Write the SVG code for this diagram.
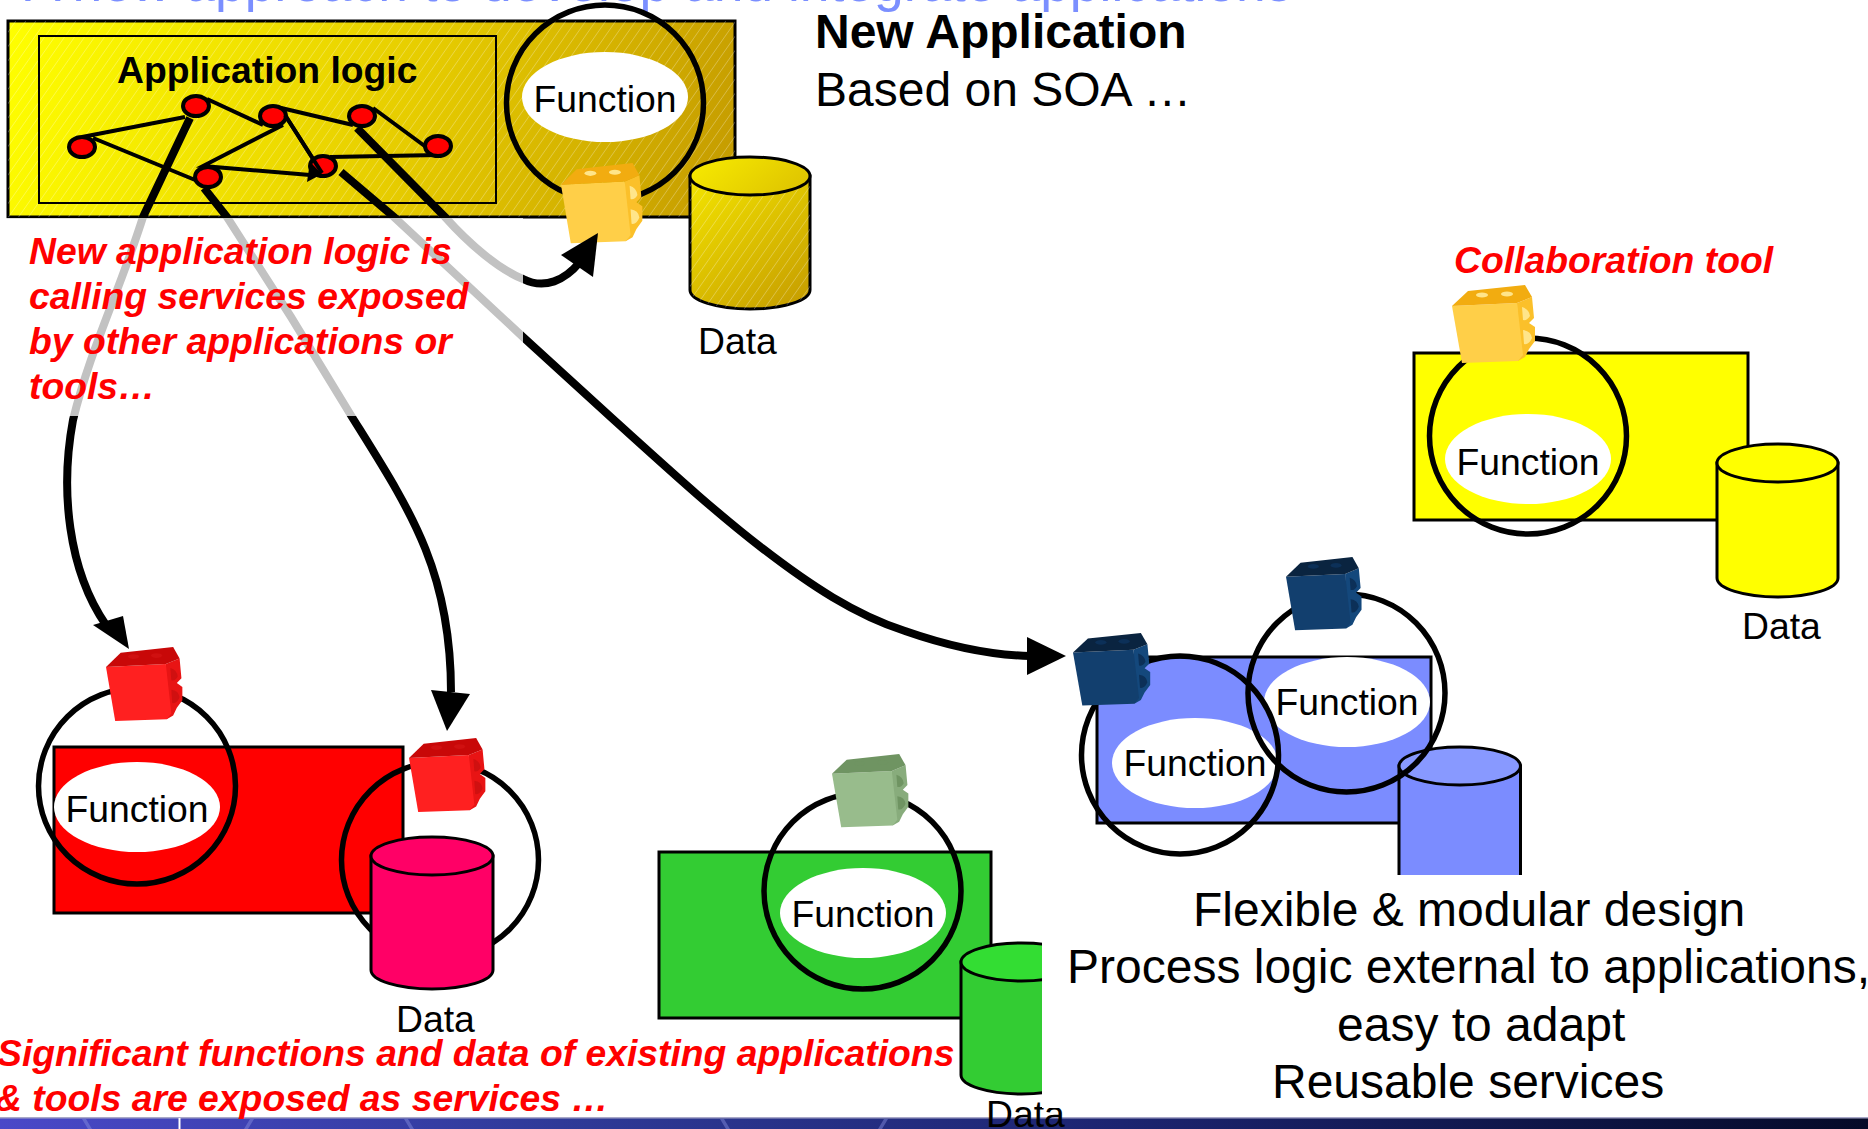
<svg xmlns="http://www.w3.org/2000/svg" width="1868" height="1129" viewBox="0 0 1868 1129">
<style>
text{font-family:"Liberation Sans",Arial,sans-serif;fill:#000;font-size:37.3px}
.b{font-weight:bold}
.red{font-weight:bold;font-style:italic;fill:#f00}
.big{font-size:48px}
.mid{text-anchor:middle}
.box{stroke:#000;stroke-width:3}
.ring{fill:none;stroke:#000;stroke-width:5.500}
.white{fill:#fff}
.cyl{stroke:#000;stroke-width:3}
.thin{fill:none;stroke:#000;stroke-width:4}
.dot{fill:#f00;stroke:#000;stroke-width:4}
.thick{fill:none;stroke:#000;stroke-width:8}
.cube-o{--t:#f2ac10;--f:#ffcf48;--s:#fbc02a;--h:#ffe58a}
.cube-r{--t:#c80808;--f:#ff2020;--s:#e81414;--h:#d01010}
.cube-g{--t:#6f9462;--f:#98bc8c;--s:#88ac7c;--h:#6f9462}
.cube-b{--t:#0a2440;--f:#123f6e;--s:#14487c;--h:#0c3058}
.streak{fill:#8a90e0;opacity:.45}
</style>
<defs>
<linearGradient id="goldRect" gradientUnits="userSpaceOnUse" x1="8" y1="21" x2="735" y2="217"><stop offset="0" stop-color="#ffff00"/><stop offset=".55" stop-color="#e6cc00"/><stop offset="1" stop-color="#c49a00"/></linearGradient>
<linearGradient id="goldCyl" gradientUnits="userSpaceOnUse" x1="690" y1="157" x2="810" y2="309"><stop offset="0" stop-color="#f8ec00"/><stop offset="1" stop-color="#c49a00"/></linearGradient>
<linearGradient id="bandG" x1="0" x2="1" y1="0" y2="0"><stop offset="0" stop-color="#4a48c8"/><stop offset=".3" stop-color="#2f3a98"/><stop offset=".6" stop-color="#1c2470"/><stop offset="1" stop-color="#050a28"/></linearGradient>
<pattern id="hatch" width="10" height="14" patternUnits="userSpaceOnUse" patternTransform="skewX(-35)"><rect x="0" y="0" width="1" height="14" fill="#fff" opacity=".28"/></pattern>
<g id="cube">
<path d="M65 18L80 12L82 33L77 38L83 42L83 56L77 64L73 72L66 76Z" fill="var(--s)"/>
<path d="M0 21L65 18L71 70L66 76L10 78Z" fill="var(--f)"/>
<path d="M0 21L16 6L73 0L80 12L65 18Z" fill="var(--t)"/>
<path d="M70 22q7 2 8 9q-3 5-7 4zM71 45q8 1 9 8q-3 7-8 6z" fill="var(--h)"/>
<ellipse cx="30" cy="10" rx="6" ry="2.500" fill="var(--h)"/>
<ellipse cx="55" cy="9" rx="6" ry="2.500" fill="var(--h)"/>
</g>
</defs>

<g id="footer-band">
<rect x="0" y="1117" width="1868" height="12" fill="url(#bandG)"/>
<rect x="0" y="1117" width="1868" height="1.500" fill="#a8a8c8"/>
<path class="streak" d="M82 1119h4l6 10h-4zM250 1119h4l-6 10h-4zM404 1119h4l6 10h-4zM720 1119h4l6 10h-4zM884 1119h4l-6 10h-4z"/>
<rect x="178.500" y="1118" width="2" height="11" fill="#fff"/>
</g>

<text id="slide-title" x="25" y="1" style="font-size:53.400px;fill:#7b8fff">A new approach to develop and integrate applications</text>

<g id="new-application">
<rect class="box" x="8" y="21" width="727" height="196" fill="url(#goldRect)"/>
<rect x="8" y="21" width="727" height="196" fill="url(#hatch)"/>
<rect x="39" y="36" width="457" height="167" fill="none" stroke="#000" stroke-width="2"/>
<text class="b" x="117" y="83">Application logic</text>
<ellipse class="white" cx="605" cy="97" rx="83" ry="45"/>
<ellipse class="ring" cx="605" cy="103" rx="98.500" ry="98"/>
<text class="mid" x="605" y="112">Function</text>
<use href="#cube" class="cube-o" transform="translate(561 163) scale(.98 1.03)"/>
<path class="cyl" fill="url(#goldCyl)" d="M690 176V290A60 19 0 0 0 810 290V176Z"/>
<path d="M690 176V290A60 19 0 0 0 810 290V176Z" fill="url(#hatch)"/>
<ellipse class="cyl" fill="url(#goldCyl)" cx="750" cy="176" rx="60" ry="19"/>
<text x="698" y="354">Data</text>
</g>

<g id="logic-graph">
<path class="thin" d="M82 137L185 117M207 99L263 125M277 107L353 125M283 125L203 166L310 175M93 138L200 182M285 115L322 173M330 157L439 155M373 108L426 147"/>
<ellipse class="dot" cx="82" cy="147" rx="13" ry="10"/>
<ellipse class="dot" cx="196" cy="106" rx="13" ry="10"/>
<ellipse class="dot" cx="273" cy="116" rx="13" ry="10"/>
<ellipse class="dot" cx="362" cy="116" rx="13" ry="10"/>
<ellipse class="dot" cx="438" cy="146" rx="13" ry="10"/>
<ellipse class="dot" cx="208" cy="177" rx="13" ry="10"/>
<ellipse class="dot" cx="323" cy="166" rx="13" ry="10"/>
<path d="M322 174L310 162L307 182Z" fill="#000"/>
<path d="M285 115L322 173" stroke="#000" stroke-width="4"/>
</g>

<g id="collaboration-tool">
<text class="red" x="1454" y="273">Collaboration tool</text>
<rect class="box" x="1414" y="353" width="334" height="167" fill="#ffff00"/>
<ellipse class="white" cx="1528" cy="459" rx="83" ry="45"/>
<ellipse class="ring" cx="1528" cy="436" rx="98.500" ry="98"/>
<text class="mid" x="1528" y="475">Function</text>
<use href="#cube" class="cube-o" transform="translate(1452 285)"/>
<path class="cyl" fill="#ffff00" d="M1717 463V578A60.500 19 0 0 0 1838 578V463Z"/>
<ellipse class="cyl" fill="#ffff00" cx="1777.500" cy="463" rx="60.500" ry="19"/>
<text x="1742" y="639">Data</text>
</g>

<g id="red-application">
<rect class="box" x="54" y="747" width="349" height="166" fill="#f00"/>
<ellipse class="white" cx="137" cy="807" rx="83" ry="45"/>
<ellipse class="ring" cx="137" cy="786" rx="98.500" ry="98"/>
<text class="mid" x="137" y="822">Function</text>
<use href="#cube" class="cube-r" transform="translate(106 647) scale(.92 .95)"/>
<ellipse class="ring" cx="440" cy="860" rx="98.500" ry="98"/>
<use href="#cube" class="cube-r" transform="translate(409 738) scale(.92 .95)"/>
<path class="cyl" fill="#ff0066" d="M371 856V970A61 19 0 0 0 493 970V856Z"/>
<ellipse class="cyl" fill="#ff0066" cx="432" cy="856" rx="61" ry="19"/>
<text x="396" y="1032">Data</text>
</g>

<g id="green-application">
<rect class="box" x="659" y="852" width="332" height="166" fill="#33cc33"/>
<ellipse class="white" cx="863" cy="913" rx="83" ry="45"/>
<ellipse class="ring" cx="862.500" cy="891" rx="98.500" ry="98"/>
<text class="mid" x="863" y="927">Function</text>
<use href="#cube" class="cube-g" transform="translate(832 754) scale(.92 .94)"/>
<path class="cyl" fill="#33cc33" d="M961 962V1075A60.500 19 0 0 0 1082 1075V962Z"/>
<ellipse class="cyl" fill="#33dd33" cx="1021.500" cy="962" rx="60.500" ry="19"/>
<text x="986" y="1127">Data</text>
</g>

<g id="blue-application">
<rect class="box" x="1097" y="657" width="334" height="166" fill="#7b8cff"/>
<path class="cyl" fill="#7b8cff" d="M1399 766V900H1520.500V766Z"/>
<ellipse class="cyl" fill="#8899ff" cx="1459.750" cy="766" rx="60.750" ry="19"/>
<ellipse class="white" cx="1195" cy="763" rx="83" ry="45"/>
<ellipse class="white" cx="1347" cy="702" rx="83" ry="45"/>
<ellipse class="ring" cx="1180" cy="755" rx="98.500" ry="99"/>
<ellipse class="ring" cx="1346.500" cy="693" rx="98.500" ry="99"/>
<text class="mid" x="1195" y="776">Function</text>
<text class="mid" x="1347" y="715">Function</text>
<use href="#cube" class="cube-b" transform="translate(1073 633) scale(.93 .93)"/>
<use href="#cube" class="cube-b" transform="translate(1286 557) scale(.91 .94)"/>
</g>

<g id="connectors">
<path class="thick" d="M190 118L143 217C120 290 90 350 73 420C60 490 68 570 106 625"/>
<path d="M129 649L93 625L123 616Z"/>
<path class="thick" d="M204 188L227 217L291 317L352 417C410 510 451 570 451 692"/>
<path d="M447 731L431 690L470 694Z"/>
<path class="thick" d="M341 172L394 217L523 337L614 420C665 466 715 512 762 548C810 585 855 615 905 631C945 645 985 655 1030 656"/>
<path d="M1066 656L1027 637L1027 675Z"/>
<path class="thick" d="M357 128L445 217C470 245 500 270 523 279C545 290 565 280 580 262"/>
<path d="M598 233L561 255L593 277Z"/>
</g>

<rect id="logic-note-veil" x="0" y="218" width="523" height="198" fill="#fff" opacity=".76"/>
<rect id="summary-mask" x="1042" y="875" width="826" height="233" fill="#fff"/>

<g id="notes">
<text class="red" x="29" y="264">New application logic is</text>
<text class="red" x="29" y="309">calling services exposed</text>
<text class="red" x="29" y="354">by other applications or</text>
<text class="red" x="29" y="399">tools…</text>
<text class="red" x="-3" y="1066">Significant functions and data of existing applications</text>
<text class="red" x="-5" y="1111">&amp; tools are exposed as services …</text>
<text class="b big" x="815" y="48">New Application</text>
<text class="big" x="815" y="106">Based on SOA …</text>
<text class="big" x="1193" y="926">Flexible &amp; modular design</text>
<text class="big" x="1067" y="983">Process logic external to applications,</text>
<text class="big" x="1337" y="1041">easy to adapt</text>
<text class="big" x="1272" y="1098">Reusable services</text>
</g>
</svg>
